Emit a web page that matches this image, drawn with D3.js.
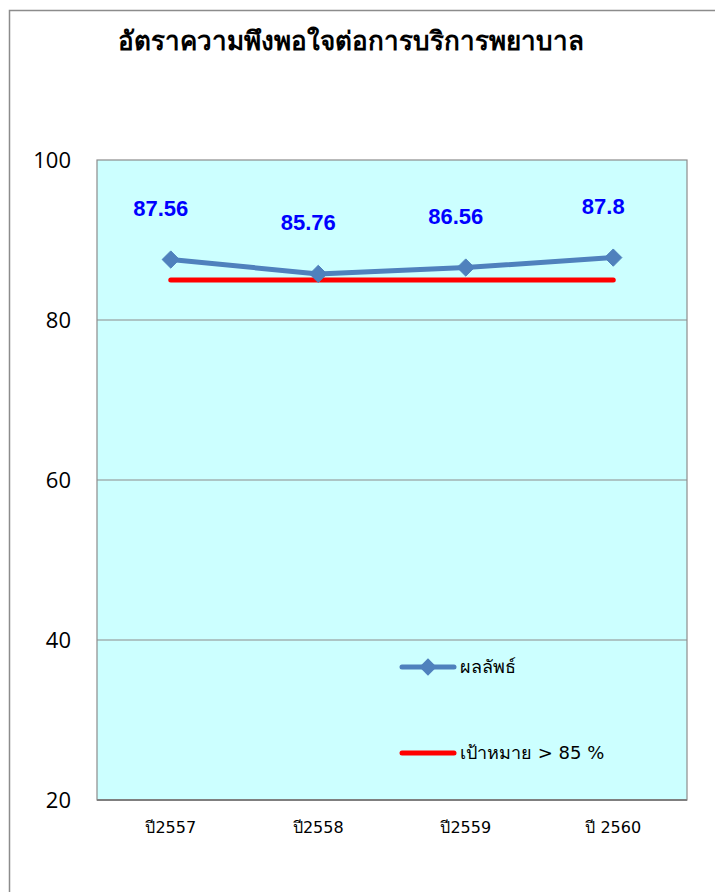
<!DOCTYPE html>
<html>
<head>
<meta charset="utf-8">
<script src="https://cdn.jsdelivr.net/npm/d3@7"></script>
<style>
  html, body { margin: 0; padding: 0; background: #fff; }
  svg { display: block; }
</style>
</head>
<body>
<script>
// Satisfaction rate with nursing services, by fiscal year
const categories = ["ปี2557", "ปี2558", "ปี2559", "ปี 2560"];
const results = [87.56, 85.76, 86.56, 87.8];
const targets = [85, 85, 85, 85];
const yTicks = [20, 40, 60, 80, 100];
const seriesNames = ["ผลลัพธ์", "เป้าหมาย > 85 %"];
const chartTitle = "อัตราความพึงพอใจต่อการบริการพยาบาล";

const W = 715, H = 892;
const plot = { left: 97, right: 687, top: 160, bottom: 800 };

const svg = d3.select("body").append("svg").attr("width", W).attr("height", H);

// outer chart frame
svg.append("rect")
  .attr("x", 9.5).attr("y", 10.5)
  .attr("width", W + 20).attr("height", H + 20)
  .attr("fill", "#fff").attr("stroke", "#8c8c8c").attr("stroke-width", 1.5);

const x = d3.scaleBand().domain(categories).range([plot.left, plot.right]);
const y = d3.scaleLinear().domain([20, 100]).range([plot.bottom, plot.top]);

// plot area
svg.append("rect")
  .attr("x", plot.left).attr("y", plot.top)
  .attr("width", plot.right - plot.left).attr("height", plot.bottom - plot.top)
  .attr("fill", "#CCFFFF").attr("stroke", "#8c8c8c").attr("stroke-width", 1.2);

// gridlines
svg.append("g").selectAll("line")
  .data(yTicks.filter(t => t > 20 && t < 100))
  .join("line")
  .attr("x1", plot.left).attr("x2", plot.right)
  .attr("y1", d => y(d)).attr("y2", d => y(d))
  .attr("stroke", "#8c8c8c").attr("stroke-width", 1.2);

// bottom axis line
svg.append("line")
  .attr("x1", plot.left).attr("x2", plot.right)
  .attr("y1", plot.bottom).attr("y2", plot.bottom)
  .attr("stroke", "#7f7f7f").attr("stroke-width", 2);

// y-axis labels
const yAxis = d3.axisLeft(y).tickValues(yTicks).tickSize(0).tickPadding(26);
svg.append("g")
  .attr("transform", `translate(${plot.left},0)`)
  .call(yAxis)
  .call(g => g.select(".domain").remove())
  .call(g => g.selectAll("text")
    .attr("font-family", "'Open Sans', 'Noto Sans', sans-serif")
    .attr("font-size", 22).attr("fill", "#000"));

// x-axis labels
const xAxis = d3.axisBottom(x).tickSize(0).tickPadding(22);
svg.append("g")
  .attr("transform", `translate(0,${plot.bottom})`)
  .call(xAxis)
  .call(g => g.select(".domain").remove())
  .call(g => g.selectAll("text")
    .attr("font-family", "Tahoma, 'DejaVu Sans', 'Liberation Sans', sans-serif")
    .attr("font-size", 16).attr("fill", "#000"));

const cx = d => x(d) + x.bandwidth() / 2;

// target line
const targetLine = d3.line().x((d, i) => cx(categories[i])).y(d => y(d));
svg.append("path")
  .datum(targets)
  .attr("d", targetLine)
  .attr("fill", "none").attr("stroke", "#FF0000")
  .attr("stroke-width", 5).attr("stroke-linecap", "round");

// result line
const resultLine = d3.line().x((d, i) => cx(categories[i])).y(d => y(d));
svg.append("path")
  .datum(results)
  .attr("d", resultLine)
  .attr("fill", "none").attr("stroke", "#4F81BD")
  .attr("stroke-width", 5).attr("stroke-linejoin", "round").attr("stroke-linecap", "round");

const diamond = d3.symbol().type(d3.symbolDiamond2).size(190);
svg.append("g").selectAll("path")
  .data(results)
  .join("path")
  .attr("d", diamond)
  .attr("transform", (d, i) => `translate(${cx(categories[i])},${y(d)})`)
  .attr("fill", "#4F81BD").attr("stroke", "#4F81BD").attr("stroke-width", 1);

// data labels
svg.append("g").selectAll("text")
  .data(results)
  .join("text")
  .attr("x", (d, i) => cx(categories[i]) - 10)
  .attr("y", d => y(d) - 44)
  .attr("text-anchor", "middle")
  .attr("font-family", "'Liberation Sans', Arial, sans-serif")
  .attr("font-weight", "bold").attr("font-size", 22)
  .attr("fill", "#0000FF")
  .text(d => d);

// title
svg.append("text")
  .attr("x", 351).attr("y", 50)
  .attr("text-anchor", "middle")
  .attr("font-family", "'Liberation Sans Narrow', 'DejaVu Sans Condensed', sans-serif")
  .attr("font-weight", "bold").attr("font-size", 26)
  .attr("fill", "#000")
  .text(chartTitle);

// legend
const legend = svg.append("g");
const legendRows = [
  { name: seriesNames[0], color: "#4F81BD", marker: true, y: 667 },
  { name: seriesNames[1], color: "#FF0000", marker: false, y: 753 }
];
legendRows.forEach(r => {
  legend.append("line")
    .attr("x1", 402).attr("x2", 454).attr("y1", r.y).attr("y2", r.y)
    .attr("stroke", r.color).attr("stroke-width", 5).attr("stroke-linecap", "round");
  if (r.marker) {
    legend.append("path")
      .attr("d", diamond)
      .attr("transform", `translate(428,${r.y})`)
      .attr("fill", r.color);
  }
  legend.append("text")
    .attr("x", 460).attr("y", r.y + 6)
    .attr("font-family", "Tahoma, 'DejaVu Sans', 'Liberation Sans', sans-serif")
    .attr("font-size", 18).attr("fill", "#000")
    .text(r.name);
});
</script>
</body>
</html>
